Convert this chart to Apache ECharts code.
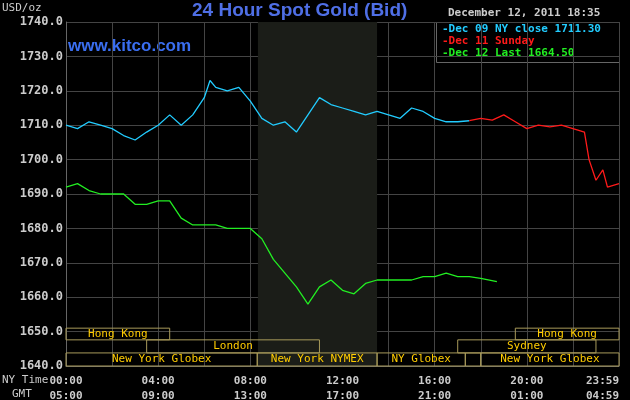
<!DOCTYPE html><html><head><meta charset="utf-8">
<script src="https://cdn.jsdelivr.net/npm/echarts@6/dist/echarts.min.js"></script>
<style>html,body{margin:0;background:#000}#c{width:630px;height:400px}</style></head><body><div id="c"></div>
<script>
const hours=[0,0.5,1,1.5,2,2.5,3,3.5,4,4.5,5,5.5,6,6.25,6.5,7,7.5,8,8.5,9,9.5,10,10.5,11,11.5,12,12.5,13,13.5,14,14.5,15,15.5,16,16.5,17,17.5];
const dec09=[1710,1709,1711,1710,1709,1707,1705.7,1708,1710,1713,1710,1713,1718,1723,1721,1720,1721,1717,1712,1710,1711,1708,1713,1718,1716,1715,1714,1713,1714,1713,1712,1715,1714,1712,1711,1711,1711.3];
const redHours=[17.5,18,18.5,19,19.5,20,20.5,21,21.5,22,22.5,22.7,23,23.3,23.5,24];
const dec11=[1711.3,1712,1711.5,1713,1711,1709,1710,1709.5,1710,1709,1708,1700,1694,1697,1692,1693];
const greenHours=[0,0.5,1,1.5,2,2.5,3,3.5,4,4.5,5,5.5,6,6.5,7,7.5,8,8.5,9,9.5,10,10.5,11,11.5,12,12.5,13,13.5,14,14.5,15,15.5,16,16.5,17,17.5,18,18.7];
const dec12=[1692,1693,1691,1690,1690,1690,1687,1687,1688,1688,1683,1681,1681,1681,1680,1680,1680,1677,1671,1667,1663,1658,1663,1665,1662,1661,1664,1665,1665,1665,1665,1666,1666,1667,1666,1666,1665.5,1664.5];
const yTicks=[1640,1650,1660,1670,1680,1690,1700,1710,1720,1730,1740];
const nyLabels={0:'00:00',4:'04:00',8:'08:00',12:'12:00',16:'16:00',20:'20:00',24:'23:59'};
const gmtLabels={0:'05:00',4:'09:00',8:'13:00',12:'17:00',16:'21:00',20:'01:00',24:'04:59'};
const sessions=[['Hong Kong',0,4.5,1647.6,1651],['Hong Kong',19.5,24,1647.6,1651],['London',3.5,11,1643.8,1647.6],['Sydney',17,23,1643.8,1647.6],
['New York Globex',0,8.3,1640,1643.8],['New York NYMEX',8.3,13.5,1640,1643.8],['NY Globex',13.5,17.33,1640,1643.8],['',17.33,18,1640,1643.8],['New York Globex',18,24,1640,1643.8]];
const mono='DejaVu Sans Mono';
const zip=(a,b)=>a.map((x,i)=>[x,b[i]]);
const chart=echarts.init(document.getElementById('c'));
chart.setOption({
backgroundColor:'#000',animation:false,
grid:{left:66,right:11,top:22,bottom:34,outerBoundsMode:'none'},
xAxis:{type:'value',min:0,max:24,interval:2,
 axisLine:{lineStyle:{color:'#666'}},axisTick:{show:false},
 splitLine:{lineStyle:{color:'#444'}},
 axisLabel:{color:'#ccc',fontFamily:mono,fontWeight:'bold',fontSize:11,lineHeight:15,margin:8,alignMaxLabel:'right',
  formatter:v=>nyLabels[v]!==undefined?nyLabels[v]+'\n'+gmtLabels[v]:''}},
yAxis:{type:'value',min:1640,max:1740,interval:10,
 axisLine:{show:true,lineStyle:{color:'#666'}},axisTick:{show:false},
 splitLine:{lineStyle:{color:'#444'}},
 axisLabel:{color:'#ccc',fontFamily:mono,fontWeight:'bold',fontSize:12,margin:3,formatter:v=>v.toFixed(1)}},
series:[
{type:'line',data:[],markArea:{silent:true,itemStyle:{color:'#1b1d18'},data:[[{xAxis:8.33},{xAxis:13.5}]]}},
{type:'line',data:[],markArea:{silent:true,itemStyle:{color:'rgba(0,0,0,0)',borderColor:'#a89a5a',borderWidth:1},
 label:{position:'inside',color:'#ffcc00',fontFamily:mono,fontSize:11},
 data:sessions.map(s=>[{name:s[0],xAxis:s[1],yAxis:s[3]},{xAxis:s[2],yAxis:s[4]}])}},
{type:'line',data:zip(hours,dec09),showSymbol:false,lineStyle:{color:'#22ccff',width:1.3}},
{type:'line',data:zip(redHours,dec11),showSymbol:false,lineStyle:{color:'#ff1a1a',width:1.3}},
{type:'line',data:zip(greenHours,dec12),showSymbol:false,lineStyle:{color:'#22ee22',width:1.3}}
],
graphic:[
{type:'text',left:2,top:3,style:{text:'USD/oz',fill:'#ccc',font:'11px '+mono}},
{type:'text',left:192,top:1,style:{text:'24 Hour Spot Gold (Bid)',fill:'#4f6fe6',font:'bold 19px Arial'}},
{type:'text',left:448,top:8,style:{text:'December 12, 2011 18:35',fill:'#ccc',font:'bold 11px '+mono}},
{type:'text',left:68,top:38,style:{text:'www.kitco.com',fill:'#3a6ef0',font:'bold 17px Arial'}},
{type:'rect',left:436,top:22,shape:{width:183,height:40},style:{fill:'#000',stroke:'#666'}},
{type:'text',left:442,top:24,style:{text:'-Dec 09 NY close 1711.30',fill:'#22ccff',font:'bold 11px '+mono}},
{type:'text',left:442,top:36,style:{text:'-Dec 11 Sunday',fill:'#ff1a1a',font:'bold 11px '+mono}},
{type:'text',left:442,top:48,style:{text:'-Dec 12 Last 1664.50',fill:'#22ee22',font:'bold 11px '+mono}},
{type:'text',left:2,top:375,style:{text:'NY Time',fill:'#ccc',font:'11px '+mono}},
{type:'text',left:12,top:389,style:{text:'GMT',fill:'#ccc',font:'11px '+mono}}
]});
</script></body></html>
